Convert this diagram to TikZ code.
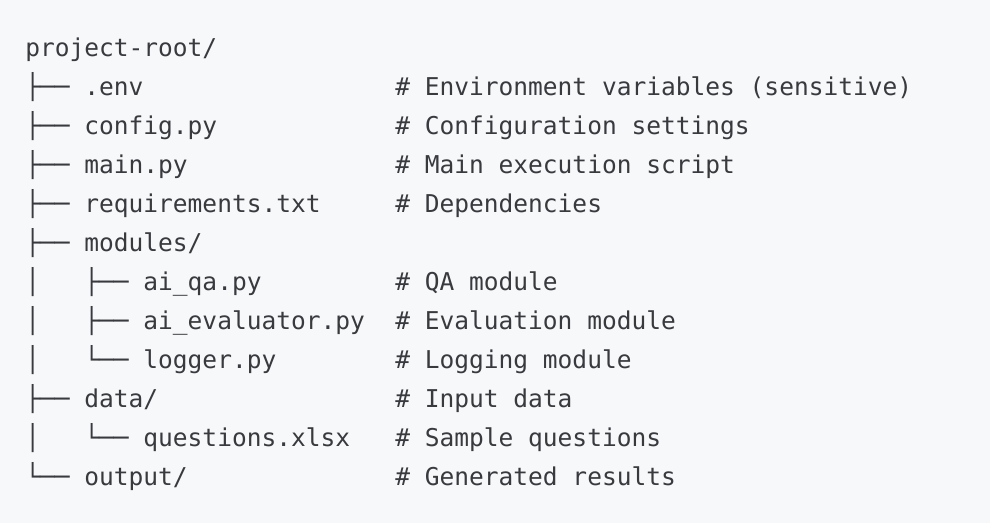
\documentclass[tikz,border=0pt]{standalone}
\usepackage{fontspec}
\setmonofont{DejaVu Sans Mono}
\definecolor{codebg}{HTML}{F7F8FA}
\definecolor{codetext}{HTML}{383A3E}

\newcommand{\treelines}{
        {project-root/}/{},
        {├── .env}/{Environment variables (sensitive)},
        {├── config.py}/{Configuration settings},
        {├── main.py}/{Main execution script},
        {├── requirements.txt}/{Dependencies},
        {├── modules/}/{},
        {│~~~├── ai\_qa.py}/{QA module},
        {│~~~├── ai\_evaluator.py}/{Evaluation module},
        {│~~~└── logger.py}/{Logging module},
        {├── data/}/{Input data},
        {│~~~└── questions.xlsx}/{Sample questions},
        {└── output/}/{Generated results}
    }

\begin{document}
\begin{tikzpicture}[x=0.75pt,y=0.75pt,
        treetext/.style={anchor=base west, inner sep=0pt,
            font=\ttfamily\fontsize{18.4}{22}\selectfont, text=codetext}]
        % Code block background
        \fill[codebg] (0,0) rectangle (990,-523);
        % Draw tree lines (names and comments)
        \foreach [count=\i] \name/\note in \treelines{
            \node[treetext] (name\i) at (25,{-57-(\i-1)*39}) {\name};
            \ifx\note\empty
                % No comment on this line
            \else
                \node[treetext] (note\i) at (395,{-57-(\i-1)*39}) {\#~\note};
            \fi
        }
    \end{tikzpicture}
\end{document}
